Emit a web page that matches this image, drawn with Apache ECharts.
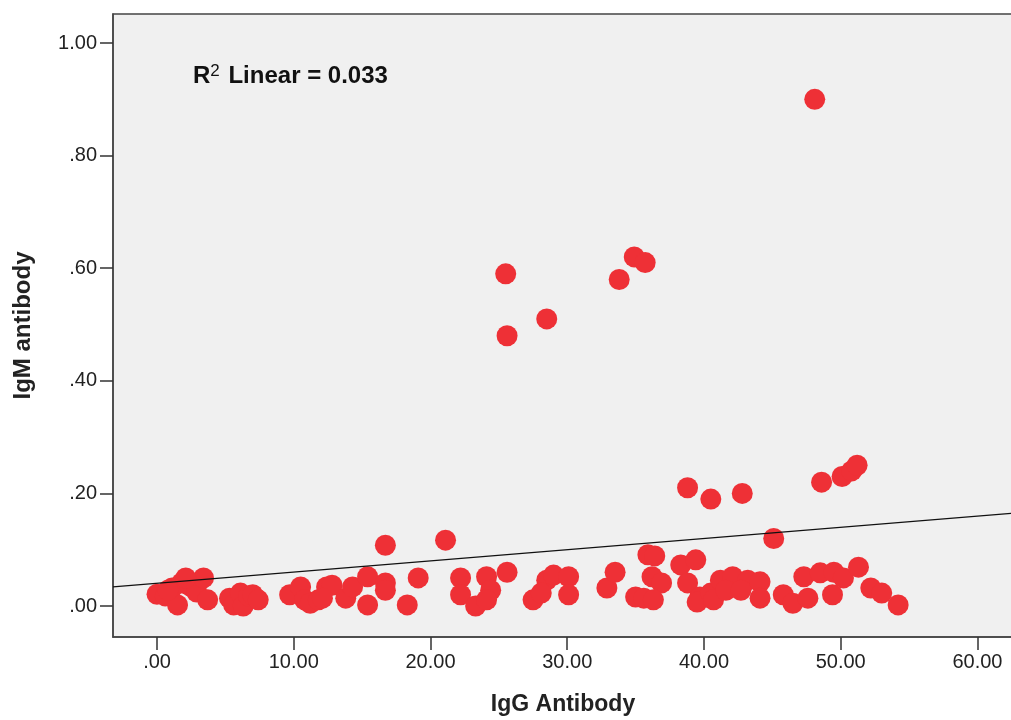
<!DOCTYPE html>
<html>
<head>
<meta charset="utf-8">
<script src="https://cdn.jsdelivr.net/npm/echarts@6/dist/echarts.min.js"></script>
<style>html,body{margin:0;padding:0;background:#fff;}#c{width:1011px;height:720px;}</style>
</head>
<body>
<div id="c"></div>
<script>
// IgG antibody (x) values
var igG = [
  0.0, 0.6, 1.1, 1.5, 1.8, 2.4, 2.9, 3.4, 3.7, 0.8, 2.1,
  5.3, 5.6, 6.1, 6.3, 6.7, 7.0, 7.4,
  9.7, 10.5, 10.8, 11.2, 11.8, 12.4, 12.8, 12.1, 13.8, 14.3, 15.4, 15.4,
  16.7, 16.7, 16.7, 18.3, 19.1, 21.1, 22.2, 22.2, 23.3, 24.1, 24.4, 24.1,
  25.6, 27.5, 28.5, 29.0, 30.1, 30.1, 28.1, 32.9, 33.5,
  35.9, 36.4, 35.0, 35.6, 36.2, 36.9, 36.3,
  38.3, 39.4, 38.8, 39.7, 39.5, 40.5, 41.2, 42.1, 43.2, 44.1, 44.1, 40.7, 41.6, 42.7,
  45.8, 46.5, 47.3, 47.6, 48.5, 49.5, 50.2, 49.4, 51.3, 52.2, 53.0, 54.2,
  48.1, 25.5, 25.6, 28.5, 33.8, 34.9, 35.7, 38.8, 40.5, 42.8, 48.6, 50.1, 50.8, 51.2, 45.1
];
// IgM antibody (y) values
var igM = [
  0.021, 0.018, 0.032, 0.002, 0.041, 0.036, 0.025, 0.050, 0.011, 0.028, 0.050,
  0.014, 0.002, 0.023, 0.000, 0.018, 0.020, 0.011,
  0.020, 0.034, 0.011, 0.005, 0.011, 0.034, 0.037, 0.014, 0.014, 0.034, 0.052, 0.002,
  0.041, 0.028, 0.108, 0.002, 0.050, 0.117, 0.050, 0.020, 0.000, 0.052, 0.028, 0.011,
  0.060, 0.011, 0.046, 0.055, 0.052, 0.020, 0.023, 0.032, 0.060,
  0.091, 0.089, 0.016, 0.014, 0.052, 0.041, 0.011,
  0.073, 0.082, 0.041, 0.016, 0.007, 0.023, 0.046, 0.052, 0.046, 0.043, 0.014, 0.011, 0.028, 0.028,
  0.020, 0.005, 0.052, 0.014, 0.059, 0.060, 0.050, 0.020, 0.069, 0.032, 0.023, 0.002,
  0.90, 0.59, 0.48, 0.51, 0.58, 0.62, 0.61, 0.21, 0.19, 0.20, 0.22, 0.23, 0.24, 0.25, 0.12
];
// fit line endpoints (x, y)
var fitX = [-3.22, 62.6];
var fitY = [0.034, 0.165];
var xTicks = [0, 10, 20, 30, 40, 50, 60];
var yTicks = [0, 0.2, 0.4, 0.6, 0.8, 1.0];
var r2Text = '0.033';

var pts = igG.map(function (x, i) { return [x, igM[i]]; });
var line = fitX.map(function (x, i) { return [x, fitY[i]]; });
function fmt(v) {
  var s = v.toFixed(2);
  return s.charAt(0) === '0' ? s.substring(1) : s;
}
var chart = echarts.init(document.getElementById('c'));
chart.setOption({
  animation: false,
  backgroundColor: '#ffffff',
  grid: {
    left: 113, top: 14, width: 900, height: 623,
    outerBoundsMode: 'none', containLabel: false,
    show: true, backgroundColor: '#F0F0F0', borderColor: '#444444', borderWidth: 1.5
  },
  xAxis: {
    type: 'value', min: -3.22, max: 62.6,
    name: 'IgG Antibody', nameLocation: 'middle', nameGap: 56,
    nameTextStyle: { fontFamily: 'Liberation Sans', fontWeight: 'bold', fontSize: 23, color: '#222' },
    splitLine: { show: false },
    axisLine: { show: true, onZero: false, lineStyle: { color: '#444', width: 1.5 } },
    axisTick: { show: true, customValues: xTicks, length: 13, lineStyle: { color: '#333', width: 1.5 } },
    axisLabel: { customValues: xTicks, formatter: fmt, margin: 15, fontFamily: 'Liberation Sans', fontSize: 20, color: '#222' }
  },
  yAxis: {
    type: 'value', min: -0.055, max: 1.0515,
    name: 'IgM antibody', nameLocation: 'middle', nameGap: 78, nameRotate: 90,
    nameTextStyle: { fontFamily: 'Liberation Sans', fontWeight: 'bold', fontSize: 24, color: '#222' },
    splitLine: { show: false },
    axisLine: { show: true, onZero: false, lineStyle: { color: '#444', width: 1.5 } },
    axisTick: { show: true, customValues: yTicks, length: 13, lineStyle: { color: '#333', width: 1.5 } },
    axisLabel: { customValues: yTicks, formatter: fmt, margin: 16, fontFamily: 'Liberation Sans', fontSize: 20, color: '#222' }
  },
  graphic: [{
    type: 'text', left: 193, top: 63,
    style: {
      text: '{a|R}{s|2}{a| Linear = ' + r2Text + '}',
      rich: {
        a: { fontFamily: 'Liberation Sans', fontWeight: 'bold', fontSize: 24, fill: '#111', verticalAlign: 'bottom' },
        s: { fontFamily: 'Liberation Sans', fontSize: 17, fill: '#111', verticalAlign: 'top', padding: [0, 2, 8, 0] }
      }
    }
  }],
  series: [
    {
      type: 'line', data: line, symbol: 'none', silent: true,
      lineStyle: { color: '#111', width: 1.3 }, z: 3
    },
    {
      type: 'scatter', data: pts, symbolSize: 21,
      itemStyle: { color: '#EE3036', opacity: 1 }, z: 2
    }
  ]
});
</script>
</body>
</html>
